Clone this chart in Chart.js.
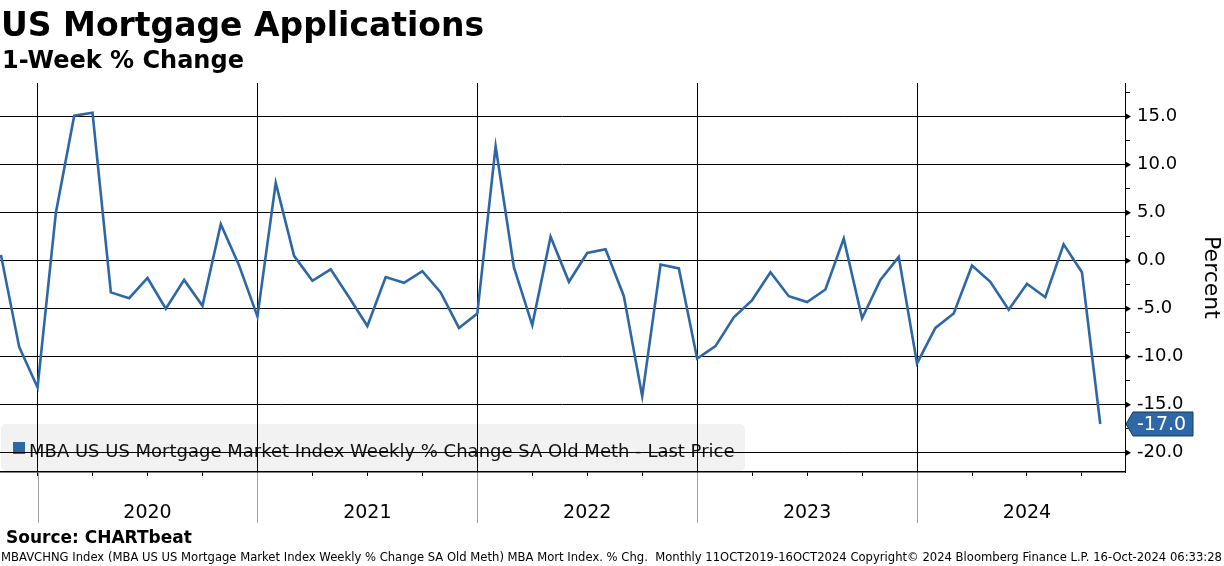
<!DOCTYPE html>
<html>
<head>
<meta charset="utf-8">
<script src="https://cdn.jsdelivr.net/npm/chart.js@4.4.0/dist/chart.umd.min.js"></script>
<style>
  html, body { margin: 0; padding: 0; background: #fff; }
  #wrap { width: 1224px; height: 566px; }
</style>
</head>
<body>
<div id="wrap"><canvas id="mortChart"></canvas></div>
<script>
// monthly points, Oct 2019 .. Oct 2024 (Bloomberg plots each at month end)
const months = [
  'Oct 2019', 'Nov 2019', 'Dec 2019',
  'Jan 2020', 'Feb 2020', 'Mar 2020', 'Apr 2020', 'May 2020', 'Jun 2020', 'Jul 2020', 'Aug 2020', 'Sep 2020', 'Oct 2020', 'Nov 2020', 'Dec 2020',
  'Jan 2021', 'Feb 2021', 'Mar 2021', 'Apr 2021', 'May 2021', 'Jun 2021', 'Jul 2021', 'Aug 2021', 'Sep 2021', 'Oct 2021', 'Nov 2021', 'Dec 2021',
  'Jan 2022', 'Feb 2022', 'Mar 2022', 'Apr 2022', 'May 2022', 'Jun 2022', 'Jul 2022', 'Aug 2022', 'Sep 2022', 'Oct 2022', 'Nov 2022', 'Dec 2022',
  'Jan 2023', 'Feb 2023', 'Mar 2023', 'Apr 2023', 'May 2023', 'Jun 2023', 'Jul 2023', 'Aug 2023', 'Sep 2023', 'Oct 2023', 'Nov 2023', 'Dec 2023',
  'Jan 2024', 'Feb 2024', 'Mar 2024', 'Apr 2024', 'May 2024', 'Jun 2024', 'Jul 2024', 'Aug 2024', 'Sep 2024', 'Oct 2024'
];
const pctChange = [
  0.6, -9.0, -13.2,
  5.0, 15.1, 15.4, -3.3, -3.9, -1.8, -5.0, -2.0, -4.7, 3.8, -0.5, -5.8,
  8.1, 0.5, -2.1, -0.9, -3.8, -6.8, -1.7, -2.3, -1.1, -3.3, -7.0, -5.5,
  11.9, -0.7, -6.7, 2.5, -2.2, 0.8, 1.2, -3.7, -14.1, -0.4, -0.8, -10.2,
  -8.9, -5.9, -4.1, -1.2, -3.7, -4.3, -3.0, 2.3, -6.0, -2.0, 0.4, -10.7,
  -7.0, -5.5, -0.5, -2.2, -5.1, -2.4, -3.8, 1.7, -1.2, -17.0
];
const yearLabels = ['2020', '2021', '2022', '2023', '2024'];

const lineColor = '#2e67a5';
const FONT = '"DejaVu Sans", sans-serif';
Chart.defaults.font.family = FONT;

// tick positions come from the month names
const quarterIdx = [], yearIdx = [], midYearIdx = [];
months.forEach((m, i) => {
  const mon = m.slice(0, 3);
  if (['Mar', 'Jun', 'Sep', 'Dec'].includes(mon)) quarterIdx.push(i);
  if (mon === 'Dec') yearIdx.push(i);
  if (mon === 'Jun') midYearIdx.push(i);
});

const legendBox = {
  id: 'legendBox',
  beforeDraw(chart) {
    const { ctx, chartArea } = chart;
    const bottom = chartArea.bottom - 1, top = bottom - 47;
    ctx.save();
    ctx.fillStyle = '#f2f2f2';
    ctx.beginPath();
    ctx.roundRect(1, top, 744, bottom - top, 5);
    ctx.fill();
    ctx.fillStyle = lineColor;
    ctx.fillRect(13, top + 18, 12, 12);
    ctx.fillStyle = '#111';
    ctx.font = '18px ' + FONT;
    ctx.textBaseline = 'alphabetic';
    ctx.fillText('MBA US US Mortgage Market Index Weekly % Change SA Old Meth - Last Price', 29, top + 33, 706);
    ctx.restore();
  }
};

const extras = {
  id: 'extras',
  afterDraw(chart) {
    const { ctx, chartArea, scales } = chart;
    ctx.save();
    // year separators under the axis
    ctx.strokeStyle = '#a0a0a0';
    ctx.lineWidth = 1;
    yearIdx.forEach(i => {
      const x = Math.round(scales.x.getPixelForValue(i)) + 0.5;
      ctx.beginPath();
      ctx.moveTo(x, chartArea.bottom + 1);
      ctx.lineTo(x, chartArea.bottom + 51);
      ctx.stroke();
    });
    // arrow markers on major y ticks
    ctx.fillStyle = '#000';
    scales.y.ticks.forEach(t => {
      if (t.value % 5 !== 0) return;
      const y = scales.y.getPixelForValue(t.value);
      ctx.beginPath();
      ctx.moveTo(chartArea.right, y - 3.5);
      ctx.lineTo(chartArea.right + 6, y);
      ctx.lineTo(chartArea.right, y + 3.5);
      ctx.closePath();
      ctx.fill();
    });
    // last value tag
    const last = pctChange[pctChange.length - 1];
    const ly = scales.y.getPixelForValue(last);
    const lx = chartArea.right + 1;
    ctx.beginPath();
    ctx.moveTo(lx, ly);
    ctx.lineTo(lx + 7, ly - 12);
    ctx.lineTo(lx + 67, ly - 12);
    ctx.lineTo(lx + 67, ly + 12);
    ctx.lineTo(lx + 7, ly + 12);
    ctx.closePath();
    ctx.fillStyle = lineColor;
    ctx.fill();
    ctx.strokeStyle = '#17385f';
    ctx.stroke();
    ctx.fillStyle = '#fff';
    ctx.font = '19px ' + FONT;
    ctx.textBaseline = 'middle';
    ctx.fillText(last.toFixed(1), lx + 11, ly + 1);
    // titles and footer
    ctx.fillStyle = '#000';
    ctx.textBaseline = 'alphabetic';
    ctx.font = 'bold 33px ' + FONT;
    ctx.fillText('US Mortgage Applications', 1, 36, 486);
    ctx.font = 'bold 24px ' + FONT;
    ctx.fillText('1-Week % Change', 2, 68, 247);
    ctx.font = 'bold 17px ' + FONT;
    ctx.fillText('Source: CHARTbeat', 6, 543, 191);
    ctx.font = '12px ' + FONT;
    ctx.fillText('MBAVCHNG Index (MBA US US Mortgage Market Index Weekly % Change SA Old Meth) MBA Mort Index. % Chg.  Monthly 11OCT2019-16OCT2024 Copyright\u00A9 2024 Bloomberg Finance L.P. 16-Oct-2024 06:33:28', 1, 561, 1221);
    ctx.restore();
  }
};

const ctx = document.getElementById('mortChart').getContext('2d');
const mortChart = new Chart(ctx, {
  type: 'line',
  data: {
    datasets: [{
      label: 'MBA US US Mortgage Market Index Weekly % Change SA Old Meth - Last Price',
      data: pctChange.map((v, i) => ({ x: i, y: v })),
      borderColor: lineColor,
      borderWidth: 2.6,
      pointRadius: 0,
      tension: 0,
      fill: false
    }]
  },
  options: {
    responsive: true,
    maintainAspectRatio: false,
    animation: false,
    layout: { padding: { top: 83, left: 0, right: 0, bottom: 43 } },
    plugins: {
      legend: { display: false },
      tooltip: { enabled: false }
    },
    scales: {
      x: {
        type: 'linear',
        min: -0.05,
        max: 61.35,
        afterBuildTicks: s => { s.ticks = quarterIdx.map(v => ({ value: v })); },
        afterFit: s => { s.height = 51; },
        ticks: {
          autoSkip: false,
          maxRotation: 0,
          padding: 26,
          color: '#000',
          font: { size: 19 },
          callback: v => {
            const k = midYearIdx.indexOf(v);
            return k >= 0 ? yearLabels[k] : '';
          }
        },
        grid: {
          color: c => (c.tick && yearIdx.includes(c.tick.value)) ? '#000' : 'rgba(0,0,0,0)',
          tickColor: '#000',
          tickLength: 4,
          lineWidth: 1
        },
        border: { color: '#000', width: 1.5 }
      },
      y: {
        position: 'right',
        min: -22,
        max: 18.5,
        afterFit: s => { s.width = 99; },
        ticks: {
          stepSize: 2.5,
          includeBounds: false,
          autoSkip: false,
          padding: 7,
          color: '#000',
          font: { size: 18 },
          callback: v => (v % 5 === 0 ? v.toFixed(1) : '')
        },
        grid: {
          color: c => (c.tick && c.tick.value % 5 === 0) ? '#000' : 'rgba(0,0,0,0)',
          tickColor: c => (c.tick && c.tick.value % 5 === 0) ? 'rgba(0,0,0,0)' : '#000',
          tickLength: 5,
          lineWidth: 1
        },
        border: { color: '#000' },
        title: {
          display: true,
          text: 'Percent',
          color: '#000',
          font: { size: 22 },
          padding: { top: 0, bottom: 2 }
        }
      }
    }
  },
  plugins: [legendBox, extras]
});
</script>
</body>
</html>
